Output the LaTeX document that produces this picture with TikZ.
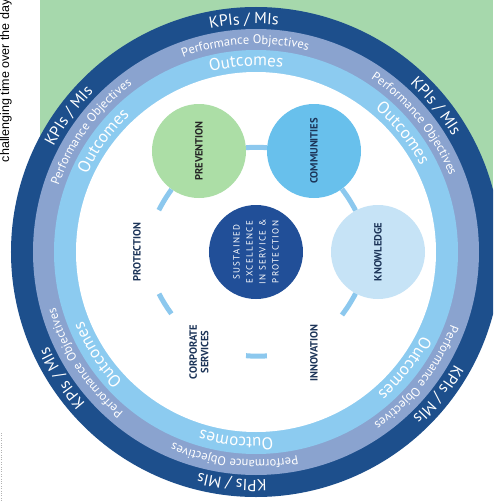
\documentclass[tikz,border=0pt]{standalone}
\usepackage{fontspec}
\setmainfont{PT Sans}
\newfontfamily\notefont{Liberation Sans}
\usepackage{tikz}
\usetikzlibrary{decorations.text}

\definecolor{kpiblue}{RGB}{29,79,140}
\definecolor{objblue}{RGB}{138,163,207}
\definecolor{outblue}{RGB}{140,203,240}
\definecolor{bggreen}{RGB}{166,216,172}
\definecolor{prevgreen}{RGB}{172,222,166}
\definecolor{commblue}{RGB}{104,192,236}
\definecolor{knowblue}{RGB}{198,227,246}
\definecolor{coreblue}{RGB}{33,79,152}
\definecolor{linkblue}{RGB}{140,200,238}
\definecolor{labelnavy}{RGB}{28,52,88}

\begin{document}
\begin{tikzpicture}[x=1pt, y=1pt,
    theme/.style={circle, minimum size=94pt, inner sep=0pt, rotate=90, align=center,
        font=\fontsize{10.5}{11.5}\selectfont\bfseries, text=labelnavy},
    link/.style={line width=5pt, linkblue, bend left=4},
    ringtext/.style={decorate, decoration={text along path, text align=center,
        text color=white, text={#1}}}]
    \useasboundingbox (-256,-249) rectangle (237,252);
    \clip (-256,-249) rectangle (237,252);

    % Page
    \fill[bggreen] (-216,-8) rectangle (237,252);
    \node[rotate=90, anchor=east, font=\notefont\fontsize{12.5}{12.5}\selectfont] (note) at (-250,256) {challenging time over the day};
    \draw[gray!60, dotted] (-255,-181) coordinate (d1) -- (-255,-249) coordinate (d2);

    % Rings
    \fill[kpiblue] (0,0) circle[radius=245pt];
    \fill[objblue] (0,0) circle[radius=223pt];
    \fill[outblue] (0,0) circle[radius=202pt];
    \fill[white] (0,0) circle[radius=180pt];

    % Ring labels
    \foreach \a in {39,93,144,213,264,322} {
        \path[ringtext={|\fontsize{16}{16}\selectfont|KPIs / MIs}] (\a+40:228pt) arc[start angle=\a+40, end angle=\a-40, radius=228pt];
        \path[ringtext={|\fontsize{12.5}{12.5}\selectfont|Performance Objectives}] (\a+40:208pt) arc[start angle=\a+40, end angle=\a-40, radius=208pt];
        \path[ringtext={|\fontsize{17}{17}\selectfont|Outcomes}] (\a+40:186pt) arc[start angle=\a+40, end angle=\a-40, radius=186pt];
    }

    % Themes
    \node[theme, fill=prevgreen, text=black!85] (prev) at (-57,101) {PREVENTION};
    \node[theme, fill=commblue] (comm) at (58,101) {COMMUNITIES};
    \node[theme, fill=knowblue] (know) at (122,0) {KNOWLEDGE};
    \node[theme, fill=white] (innov) at (58,-101) {INNOVATION};
    \node[theme, fill=white] (corp) at (-57,-100) {CORPORATE\\SERVICES};
    \node[theme, fill=white] (prot) at (-119,0) {PROTECTION};
    \node[theme, fill=coreblue, text=white, font=\fontsize{9}{13}\selectfont\addfontfeatures{LetterSpace=15}] (core) at (0,0) {SUSTAINED\\EXCELLENCE\\IN SERVICE \&\\PROTECTION};

    % Links
    \draw[link] (prev) to (comm);
    \draw[link] (comm) to (know);
    \draw[link] (know) to (innov);
    \draw[link] (innov) to (corp);
    \draw[link] (corp) to (prot);
    \draw[link] (prot) to (prev);
\end{tikzpicture}
\end{document}
